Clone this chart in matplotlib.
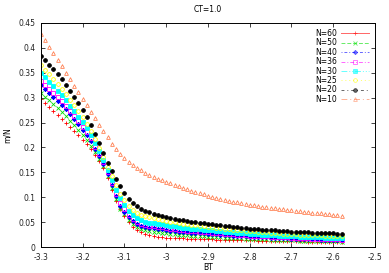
import matplotlib
matplotlib.use("Agg")
import matplotlib.pyplot as plt
from matplotlib.lines import Line2D
from matplotlib.ticker import FuncFormatter

bt = [round(-3.30 + 0.01 * i, 2) for i in range(73)]

n60 = [.297, .289, .281, .273, .265, .257, .249, .241, .233, .224, .215, .207, .197, .185, .172, .158,
       .138, .115, .093, .076, .062, .050, .041, .034, .030, .027, .025, .023, .021, .020, .019, .0185,
       .018, .0175, .0172, .0169, .0166, .0163, .016, .0157, .0155, .0153, .0151, .0149, .0147, .0145,
       .0143, .0141, .0139, .0137, .0135, .0133, .0131, .0129, .0127, .0125, .0123, .0121, .0119, .0117,
       .0115, .0114, .0113, .0112, .0111, .011, .0108, .0106, .0104, .0102, .010, .0098, .0096]
n50 = [.309, .302, .295, .288, .280, .271, .263, .254, .245, .235, .225, .214, .203, .190, .176, .162,
       .142, .119, .096, .077, .066, .055, .046, .040, .036, .034, .032, .031, .030, .029, .0275, .0267,
       .0258, .025, .0243, .0236, .023, .0225, .022, .0215, .021, .0205, .020, .0195, .019, .0185, .0181,
       .0177, .0173, .0169, .0165, .0162, .0159, .0156, .0153, .015, .0147, .0144, .0141, .0138, .0135,
       .0133, .0131, .0129, .0127, .0125, .0123, .0121, .0119, .0117, .0115, .0113, .011]
n40 = [.325, .317, .309, .301, .294, .286, .277, .268, .258, .247, .236, .225, .213, .197, .182, .167,
       .147, .125, .102, .083, .071, .060, .052, .046, .043, .041, .039, .038, .037, .0355, .034, .033,
       .032, .031, .0303, .0296, .029, .0285, .028, .0275, .027, .0263, .0256, .0249, .0242, .0235, .023,
       .0225, .022, .0215, .021, .0206, .0202, .0198, .0194, .019, .0186, .0182, .0178, .0174, .017,
       .0167, .0164, .0161, .0158, .0155, .0152, .0149, .0146, .0143, .014, .0138, .0135]
n36 = [.334, .326, .318, .310, .302, .293, .284, .274, .264, .253, .242, .231, .218, .201, .186, .170,
       .150, .129, .107, .088, .076, .065, .057, .051, .047, .045, .043, .042, .041, .0395, .038, .0368,
       .0356, .0345, .0337, .0329, .032, .0315, .031, .0305, .030, .0292, .0284, .0276, .0268, .026,
       .0254, .0248, .0242, .0236, .023, .0226, .0222, .0218, .0214, .021, .0206, .0202, .0198, .0194,
       .019, .0186, .0182, .0178, .0174, .017, .0167, .0164, .0161, .0158, .0155, .0152, .015]
n30 = [.350, .341, .332, .323, .314, .305, .295, .284, .273, .262, .251, .239, .226, .208, .192, .175,
       .155, .135, .115, .098, .084, .073, .064, .058, .054, .051, .049, .048, .047, .0455, .044, .0427,
       .0413, .040, .039, .038, .037, .0364, .0358, .0352, .0345, .0336, .0327, .0318, .0309, .030,
       .0294, .0288, .0282, .0276, .027, .0264, .0258, .0252, .0246, .024, .0236, .0232, .0228, .0224,
       .022, .0216, .0212, .0208, .0204, .020, .0197, .0194, .0191, .0188, .0185, .0182, .018]
n25 = [.365, .356, .347, .338, .328, .318, .307, .296, .285, .273, .261, .248, .234, .216, .198, .180,
       .160, .142, .124, .107, .095, .083, .075, .069, .065, .062, .060, .058, .056, .0545, .053, .0513,
       .0496, .048, .047, .046, .045, .044, .043, .042, .041, .040, .039, .038, .037, .036, .0352, .0344,
       .0336, .0328, .032, .0314, .0308, .0302, .0296, .029, .0284, .0278, .0272, .0266, .026, .0256,
       .0252, .0248, .0244, .024, .0237, .0234, .0231, .0228, .0225, .0222, .022]
n20 = [.384, .375, .366, .357, .347, .337, .326, .314, .302, .289, .275, .261, .246, .228, .208, .188,
       .168, .152, .137, .122, .108, .097, .088, .082, .077, .073, .070, .067, .065, .063, .061, .059,
       .057, .055, .0535, .052, .051, .050, .049, .048, .047, .046, .045, .044, .043, .042, .041, .040,
       .039, .038, .037, .0364, .0358, .0352, .0346, .034, .0334, .0328, .0322, .0316, .031, .0306,
       .0302, .0298, .0294, .029, .0287, .0284, .0281, .0278, .0275, .0272, .027]
n10 = [.428, .415, .402, .389, .376, .363, .350, .337, .324, .311, .298, .285, .272, .259, .246, .233,
       .220, .207, .196, .186, .178, .171, .165, .159, .154, .149, .145, .141, .137, .134, .131, .128,
       .125, .122, .119, .116, .113, .111, .108, .106, .103, .101, .099, .097, .095, .093, .091, .090,
       .088, .087, .085, .084, .082, .081, .080, .079, .078, .077, .076, .075, .074, .073, .072, .071,
       .070, .069, .068, .0675, .067, .066, .065, .064, .063]

labels = ["N=60", "N=50", "N=40", "N=36", "N=30", "N=25", "N=20", "N=10"]
series = [n60, n50, n40, n36, n30, n25, n20, n10]
colors = ["#ff0000", "#00e000", "#0000ff", "#ff00ff", "#00ffff", "#ffff00", "#000000", "#ff7f50"]
markers = ["+", "x", (8, 2, 0), "s", "s", "o", "o", "^"]
filled = [True, True, True, False, True, False, True, False]
dashes = ["-", (0, (4, 2)), (0, (1, 2, 3, 2)), (0, (4, 2, 1, 2)), (0, (6, 2, 1, 2, 1, 2)),
          (0, (1, 3)), (0, (3, 3, 1, 3)), (0, (6, 3, 1, 3))]
msizes = [2.8, 2.4, 3.2, 2.6, 2.5, 2.7, 2.7, 2.7]

plt.rcParams["axes.unicode_minus"] = False
plt.rcParams["font.family"] = "DejaVu Sans"

fig = plt.figure(figsize=(3.89, 2.73), dpi=100)
ax = fig.add_axes([0.105, 0.095, 0.859, 0.821])

handles = []
for y, lab, c, m, f, ls, ms in zip(series, labels, colors, markers, filled, dashes, msizes):
    fc = c if f else "none"
    ax.plot(bt, y, linestyle="none", marker=m, color=c, markerfacecolor=fc,
            markeredgecolor=c, markersize=ms, markeredgewidth=0.6)
    handles.append(Line2D([], [], linestyle=ls, linewidth=0.7, color=c, alpha=0.6, marker=m,
                          markerfacecolor=fc, markeredgecolor=c, markersize=ms,
                          markeredgewidth=0.6, label=lab))

ax.set_xlim(-3.3, -2.5)
ax.set_ylim(0, 0.45)
ax.set_xticks([round(-3.3 + 0.1 * i, 1) for i in range(9)])
ax.set_yticks([round(0.05 * i, 2) for i in range(10)])
fmt = FuncFormatter(lambda v, p: "%g" % round(v, 2))
ax.xaxis.set_major_formatter(fmt)
ax.yaxis.set_major_formatter(fmt)
ax.tick_params(direction="in", length=3, width=0.6, labelsize=5.5, top=True, right=True,
               pad=4, colors="#222222")
for s in ax.spines.values():
    s.set_linewidth(0.7)

ax.set_title("CT=1.0", fontsize=5.5, pad=8)
ax.set_xlabel("BT", fontsize=5.5, labelpad=1)
ax.set_ylabel("m/N", fontsize=5.5, labelpad=5)

ax.legend(handles=handles, loc="upper right", frameon=False, markerfirst=False, fontsize=5.5,
          handlelength=3.6, labelspacing=0.05, handletextpad=0.6, borderaxespad=0.4,
          numpoints=1)

fig.savefig("out.png", dpi=100)
